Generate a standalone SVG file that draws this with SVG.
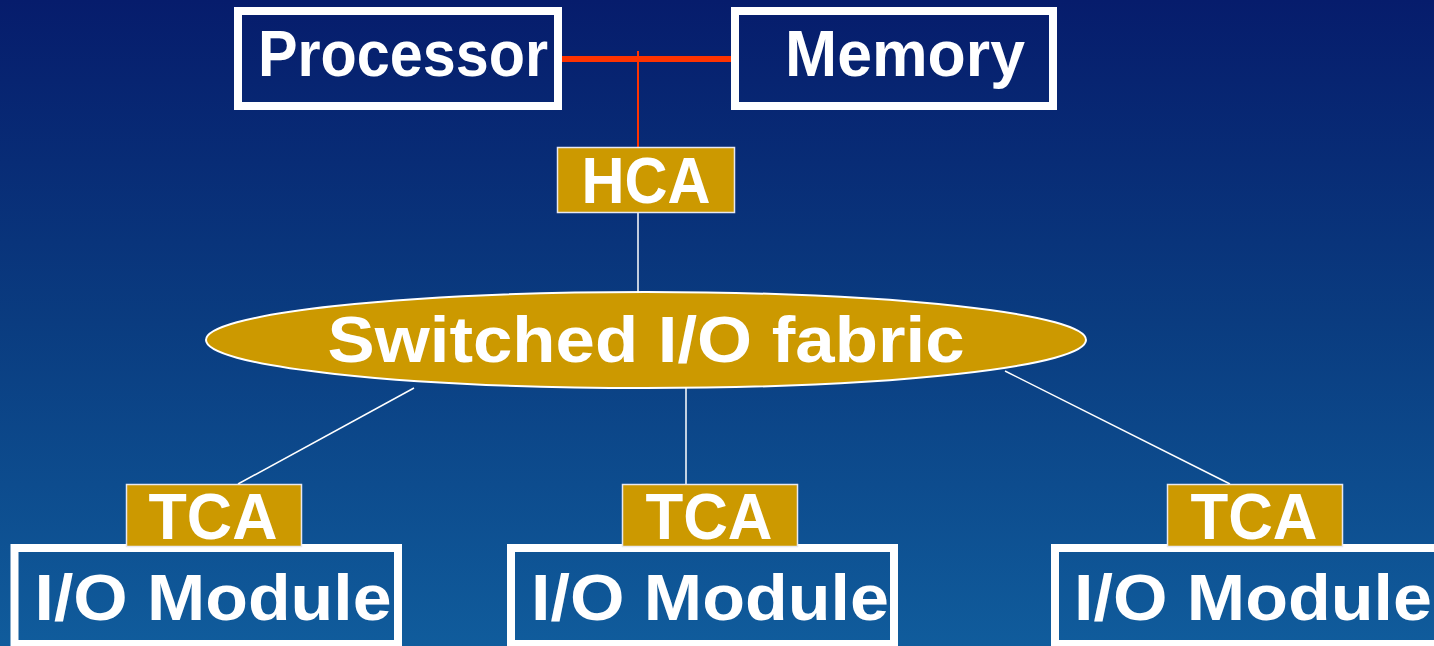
<svg xmlns="http://www.w3.org/2000/svg" width="1434" height="646" viewBox="0 0 1434 646">
<defs>
<linearGradient id="bg" x1="0" y1="0" x2="0" y2="1">
<stop offset="0" stop-color="#061c6c"/>
<stop offset="0.5" stop-color="#0a3c80"/>
<stop offset="1" stop-color="#105c9c"/>
</linearGradient>
<style>
.lbl{font-family:"Liberation Sans",Arial,sans-serif;font-weight:bold;fill:#ffffff;font-size:64px;text-anchor:middle}
.frame{fill:#ffffff;fill-rule:evenodd}
.gold{fill:#cc9900;stroke:#e8e8f0;stroke-width:1.5}
.wline{stroke:#ffffff;stroke-width:1.5;fill:none}
</style>
</defs>
<rect x="0" y="0" width="1434" height="646" fill="url(#bg)"/>

<g id="connectors">
<line x1="558" y1="59" x2="735" y2="59" stroke="#ff3300" stroke-width="6"/>
<line x1="638" y1="51" x2="638" y2="148" stroke="#ff3300" stroke-width="2"/>
<line class="wline" x1="638" y1="212" x2="638" y2="293"/>
<line class="wline" x1="414" y1="388" x2="238" y2="484"/>
<line class="wline" x1="686" y1="388" x2="686" y2="484"/>
<line class="wline" x1="1005" y1="371" x2="1230" y2="484"/>
</g>

<g id="processor">
<path class="frame" d="M234 7H562V110H234Z M242 15V102H554V15Z"/>
<text class="lbl" x="403" y="76" textLength="290" lengthAdjust="spacingAndGlyphs">Processor</text>
</g>

<g id="memory">
<path class="frame" d="M731 7H1057V110H731Z M739 15V102H1049V15Z"/>
<text class="lbl" x="905" y="76" textLength="240" lengthAdjust="spacingAndGlyphs">Memory</text>
</g>

<g id="hca">
<rect class="gold" x="557.5" y="147.5" width="177" height="65"/>
<text class="lbl" x="646" y="203" textLength="129" lengthAdjust="spacingAndGlyphs">HCA</text>
</g>

<g id="fabric">
<ellipse cx="646" cy="340" rx="440" ry="48" fill="#cc9900" stroke="#ffffff" stroke-width="2"/>
<text class="lbl" x="646" y="362" textLength="637" lengthAdjust="spacingAndGlyphs">Switched I/O fabric</text>
</g>

<g id="io1">
<path class="frame" d="M10.5 544H402V648H10.5Z M18.5 552V640H394V552Z"/>
<text class="lbl" x="213" y="620" textLength="357" lengthAdjust="spacingAndGlyphs">I/O Module</text>
</g>
<g id="tca1">
<rect class="gold" x="126.5" y="484.5" width="175" height="62"/>
<text class="lbl" x="213" y="539" textLength="129" lengthAdjust="spacingAndGlyphs">TCA</text>
</g>

<g id="io2">
<path class="frame" d="M507 544H898V648H507Z M515 552V640H890V552Z"/>
<text class="lbl" x="710" y="620" textLength="358" lengthAdjust="spacingAndGlyphs">I/O Module</text>
</g>
<g id="tca2">
<rect class="gold" x="622.5" y="484.5" width="175" height="62"/>
<text class="lbl" x="709" y="539" textLength="127" lengthAdjust="spacingAndGlyphs">TCA</text>
</g>

<g id="io3">
<path class="frame" d="M1051 544H1442V648H1051Z M1059 552V640H1434V552Z"/>
<text class="lbl" x="1253" y="620" textLength="358" lengthAdjust="spacingAndGlyphs">I/O Module</text>
</g>
<g id="tca3">
<rect class="gold" x="1167.5" y="484.5" width="175" height="62"/>
<text class="lbl" x="1254" y="539" textLength="127" lengthAdjust="spacingAndGlyphs">TCA</text>
</g>
</svg>
